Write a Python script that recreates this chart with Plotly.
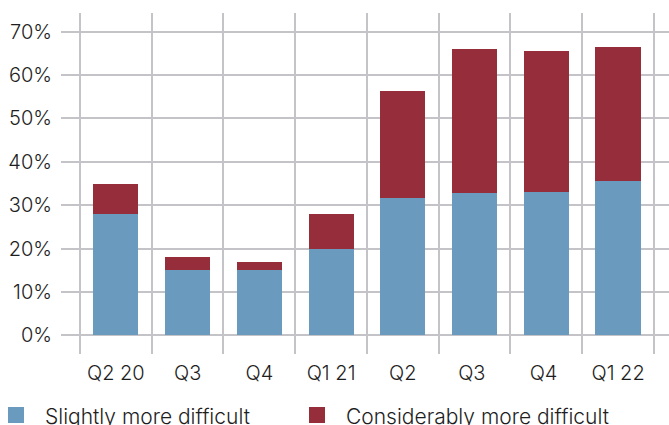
import plotly.graph_objects as go

# Quarterly shares of respondents (%)
quarters = ["Q2 20", "Q3", "Q4", "Q1 21", "Q2", "Q3 ", "Q4 ", "Q1 22"]
slightly = [28, 15, 15, 20, 31.6, 32.8, 33.0, 35.6]
considerably = [7, 3, 2, 8, 24.7, 33.2, 32.5, 30.8]

y_ticks = [0, 10, 20, 30, 40, 50, 60, 70]
y_tick_text = [f"{v}%" for v in y_ticks]

series_names = ["Slightly more difficult", "Considerably more difficult"]
series_colors = ["#6a9bbf", "#952d3b"]

W, H = 669, 425
ML, MR, MT, MB = 61, 0, 13, 71
FONT = "Inter"
TICK_SIZE = 20
LEGEND_SIZE = 21
TEXT_COLOR = "#1e1e1e"
GRID = "#c4c4c8"

fig = go.Figure()
for name, vals, col in zip(series_names, [slightly, considerably], series_colors):
    fig.add_trace(go.Bar(
        x=quarters, y=vals, name=name, marker_color=col,
        marker_line_width=0, showlegend=False,
    ))

fig.update_layout(
    width=W, height=H,
    margin=dict(l=ML, r=MR, t=MT, b=MB, pad=0),
    barmode="stack", bargap=0.37,
    plot_bgcolor="white", paper_bgcolor="white",
    font=dict(family=FONT, size=TICK_SIZE, color=TEXT_COLOR, weight=300),
)
fig.update_xaxes(
    type="category", range=[-0.765, 7.71],
    tickson="boundaries", showgrid=True, gridcolor=GRID, gridwidth=1.5,
    ticks="", ticklen=0, showline=False, zeroline=False,
    ticklabelstandoff=5,
)
fig.update_yaxes(
    range=[-4.3, 74.3], tickmode="array", tickvals=y_ticks, ticktext=y_tick_text,
    showgrid=True, gridcolor=GRID, gridwidth=1.5,
    zeroline=True, zerolinecolor=GRID, zerolinewidth=1.5,
    ticks="", showline=False, ticklabelstandoff=8,
)

# Legend drawn below the plot: square swatch followed by its label
pw, ph = W - ML - MR, H - MT - MB
def px_x(px):
    return (px - ML) / pw
def px_y(py):
    return (H - MB - py) / ph

legend_x = [8, 309]
for lx, name, col in zip(legend_x, series_names, series_colors):
    fig.add_shape(type="rect", xref="paper", yref="paper",
                  x0=px_x(lx), x1=px_x(lx + 16), y0=px_y(423), y1=px_y(407),
                  fillcolor=col, line_width=0)
    fig.add_annotation(xref="paper", yref="paper", x=px_x(lx + 35), y=px_y(416),
                       text=name, showarrow=False, xanchor="left", yanchor="middle",
                       font=dict(family=FONT, size=LEGEND_SIZE, color=TEXT_COLOR, weight=300))

fig.write_html("out.html")
